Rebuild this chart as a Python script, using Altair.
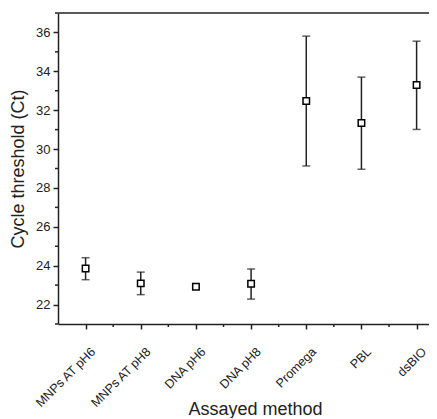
import json
import altair as alt
import pandas as pd

categories = ["MNPs AT pH6", "MNPs AT pH8", "DNA pH6", "DNA pH8", "Promega", "PBL", "dsBIO"]
means = [23.85, 23.09, 22.92, 23.07, 32.47, 31.34, 33.29]
upper = [24.41, 23.67, 22.99, 23.83, 35.81, 33.70, 35.55]
lower = [23.28, 22.51, 22.85, 22.28, 29.13, 28.96, 31.01]
y_ticks = [22, 24, 26, 28, 30, 32, 34, 36]
y_minor = [21, 23, 25, 27, 29, 31, 33, 35, 37]
x_minor = [1.5, 2.5, 3.5, 4.5, 5.5, 6.5]

W, H = 371, 311
FONT = "Liberation Sans"
AX = "#222222"

df = pd.DataFrame({
    "pos": list(range(1, len(categories) + 1)),
    "cat": categories, "mean": means, "hi": upper, "lo": lower,
})

xs = alt.Scale(domain=[0.5, 0.5 + W / 55.17], nice=False, zero=False)
ys = alt.Scale(domain=[21, 37], nice=False, zero=False)

label_expr = json.dumps(categories) + "[datum.value - 1]"

base = alt.Chart(df)

xaxis = alt.Axis(values=list(range(1, 8)), labelExpr=label_expr, labelAngle=-45,
                 labelAlign="right", labelBaseline="top", labelPadding=16, labelOffset=3,
                 labelOverlap=False, labelBound=False, labelFlush=False,
                 labelFontSize=12.5, tickSize=5, tickWidth=1.5, tickColor=AX,
                 domainColor=AX, domainWidth=1.5, labelColor=AX, grid=False,
                 title="Assayed method", titleFontSize=18, titleFontWeight="normal",
                 titleColor=AX, titleX=197, titleY=90, titleAlign="center",
                 titleBaseline="alphabetic", labelFont=FONT, titleFont=FONT)
yaxis = alt.Axis(values=y_ticks, labelFontSize=13, tickSize=5, tickWidth=1.5,
                 tickColor=AX, domainColor=AX, domainWidth=1.5, labelColor=AX,
                 labelPadding=3, grid=False, title="Cycle threshold (Ct)",
                 titleFontSize=18, titleFontWeight="normal", titleColor=AX,
                 titlePadding=8, labelFont=FONT, titleFont=FONT)

bars = base.mark_rule(color=AX, strokeWidth=1.5).encode(
    x=alt.X("pos:Q", scale=xs, axis=xaxis),
    y=alt.Y("lo:Q", scale=ys, axis=yaxis),
    y2="hi:Q",
)
cap_hi = base.mark_tick(color=AX, thickness=1.5, size=8, orient="horizontal").encode(
    x=alt.X("pos:Q", scale=xs), y=alt.Y("hi:Q", scale=ys))
cap_lo = base.mark_tick(color=AX, thickness=1.5, size=8, orient="horizontal").encode(
    x=alt.X("pos:Q", scale=xs), y=alt.Y("lo:Q", scale=ys))
pts = base.mark_point(shape="square", size=42, filled=True, fill="white",
                      stroke="black", strokeWidth=1.5, opacity=1).encode(
    x=alt.X("pos:Q", scale=xs), y=alt.Y("mean:Q", scale=ys))

ymin = alt.Chart(pd.DataFrame({"v": y_minor})).mark_rule(color=AX, strokeWidth=1.5).encode(
    y=alt.Y("v:Q", scale=ys), x=alt.value(-3), x2=alt.value(0))
xmin = alt.Chart(pd.DataFrame({"v": x_minor})).mark_rule(color=AX, strokeWidth=1.5).encode(
    x=alt.X("v:Q", scale=xs), y=alt.value(H), y2=alt.value(H + 3))
top = alt.Chart(pd.DataFrame({"v": [37]})).mark_rule(color=AX, strokeWidth=1.5).encode(
    y=alt.Y("v:Q", scale=ys), x=alt.value(0), x2=alt.value(W))

chart = alt.layer(top, ymin, xmin, bars, cap_hi, cap_lo, pts).properties(
    width=W, height=H,
    autosize=alt.AutoSizeParams(type="none"),
    padding={"left": 50, "top": 5, "right": 0, "bottom": 94},
).configure_view(stroke=None)

chart.save("out.html", embed_options={"renderer": "svg", "actions": False})
